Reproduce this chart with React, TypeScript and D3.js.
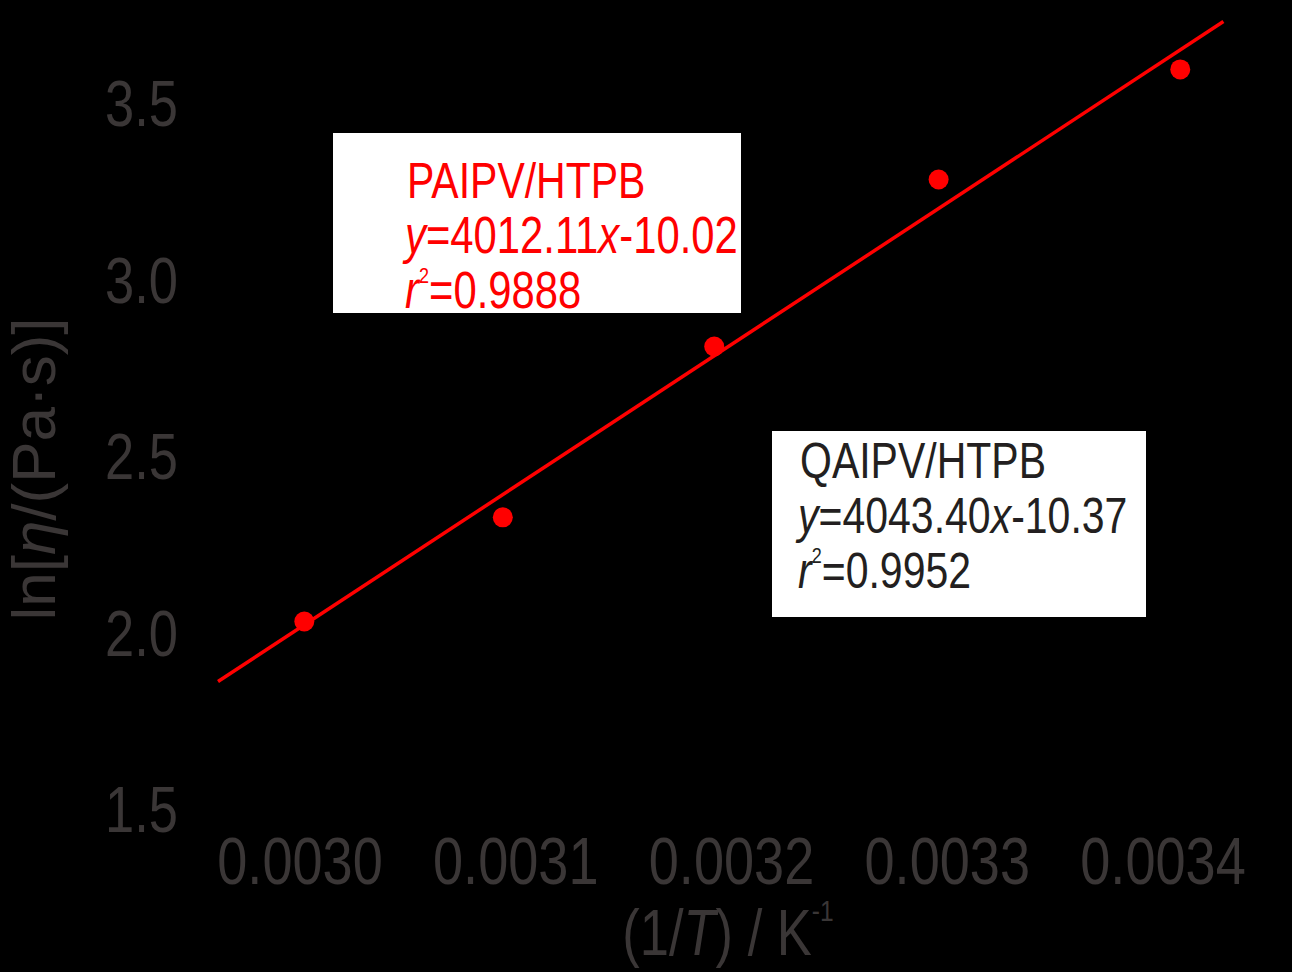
import React from "react";
import * as d3 from "d3";

const invT: number[] = [0.003002, 0.003094, 0.003192, 0.003296, 0.003408];
const lnEta: number[] = [2.034, 2.329, 2.813, 3.286, 3.598];
const xTicks: number[] = [0.003, 0.0031, 0.0032, 0.0033, 0.0034];
const yTicks: number[] = [1.5, 2.0, 2.5, 3.0, 3.5];
const fitSlope = 4012.11;
const fitIntercept = -10.02;
const fitRange: number[] = [0.002962, 0.003428];

const W = 1292;
const H = 972;
const SX = 0.82;
const FONT = "'Liberation Sans', Arial, sans-serif";
const GRAY = "#3a3636";
const RED = "#ff0000";

const x = d3.scaleLinear().domain([0.003, 0.0034]).range([300, 1163]);
const y = d3.scaleLinear().domain([1.5, 3.5]).range([810, 104]);

function NText(props: { x: number; y: number; anchor?: string; size: number; fill: string; rotate?: number; sx?: number; children: React.ReactNode }) {
  const { rotate = 0, sx = SX } = props;
  return (
    <text
      transform={`translate(${props.x},${props.y}) rotate(${rotate}) scale(${sx},1)`}
      textAnchor={props.anchor || "start"}
      fontFamily={FONT}
      fontSize={props.size}
      fill={props.fill}
    >
      {props.children}
    </text>
  );
}

export default function App() {
  const line = d3
    .line<number>()
    .x((d) => x(d))
    .y((d) => y(fitSlope * d + fitIntercept));
  return (
    <svg width={W} height={H} style={{ display: "block", position: "absolute", left: 0, top: 0, background: "#000" }}>
      <rect x={0} y={0} width={W} height={H} fill="#000" />
      {yTicks.map((t) => (
        <NText key={"y" + t} x={178} y={y(t) + 22} anchor="end" size={64} fill={GRAY}>
          {t.toFixed(1)}
        </NText>
      ))}
      {xTicks.map((t) => (
        <NText key={"x" + t} x={x(t)} y={884} anchor="middle" size={66} fill={GRAY}>
          {t.toFixed(4)}
        </NText>
      ))}
      <NText x={728} y={955} anchor="middle" size={64} fill={GRAY}>
        (1/<tspan fontStyle="italic">T</tspan>) / K
        <tspan fontSize={30} dy={-34}>-1</tspan>
      </NText>
      <NText x={55} y={469} anchor="middle" size={62} fill={GRAY} rotate={-90} sx={1}>
        ln[<tspan fontStyle="italic">η</tspan>/(Pa·s)]
      </NText>

      <rect x={333} y={133} width={408} height={180} fill="#fff" />
      <NText x={407} y={198} size={50} fill={RED}>PAIPV/HTPB</NText>
      <NText x={405} y={253} size={51} fill={RED}>
        <tspan fontStyle="italic">y</tspan>=4012.11<tspan fontStyle="italic">x</tspan>-10.02
      </NText>
      <NText x={405} y={308} size={51} fill={RED}>
        <tspan fontStyle="italic">r</tspan>
        <tspan fontSize={22} dy={-25}>2</tspan>
        <tspan dy={25}>=0.9888</tspan>
      </NText>

      <rect x={772} y={431} width={374} height={186} fill="#fff" />
      <NText x={800} y={478} size={50} fill="#231f20">QAIPV/HTPB</NText>
      <NText x={798} y={533} size={50} fill="#231f20">
        <tspan fontStyle="italic">y</tspan>=4043.40<tspan fontStyle="italic">x</tspan>-10.37
      </NText>
      <NText x={798} y={588} size={50} fill="#231f20">
        <tspan fontStyle="italic">r</tspan>
        <tspan fontSize={22} dy={-25}>2</tspan>
        <tspan dy={25}>=0.9952</tspan>
      </NText>

      <path d={line(fitRange) || ""} stroke={RED} strokeWidth={3.5} fill="none" />
      {invT.map((v, i) => (
        <circle key={i} cx={x(v)} cy={y(lnEta[i])} r={10} fill={RED} />
      ))}
    </svg>
  );
}
